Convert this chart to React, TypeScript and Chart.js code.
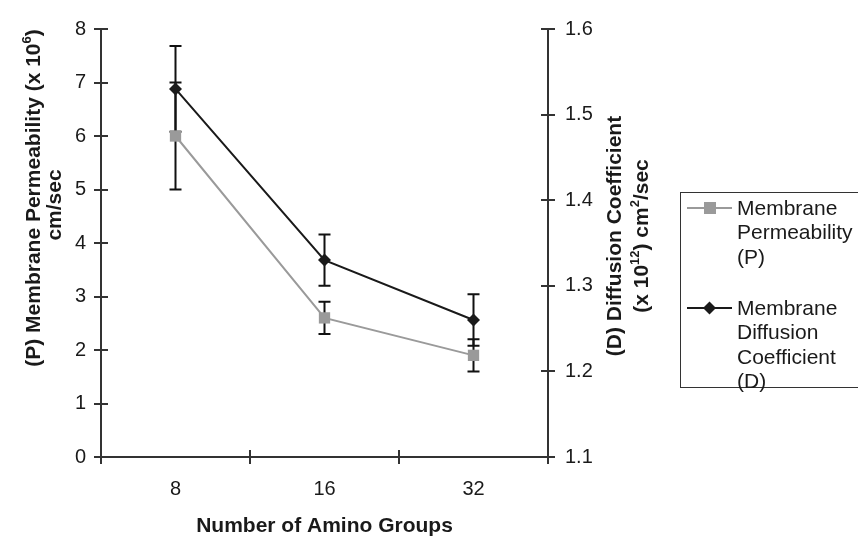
import React, { useEffect, useRef } from 'react';
import { Chart, registerables } from 'chart.js';

Chart.register(...registerables);

const categories = ['8', '16', '32'];
const permeability = [6.0, 2.6, 1.9];
const permeabilityErr = [1.0, 0.3, 0.3];
const diffusion = [1.53, 1.33, 1.26];
const diffusionErr = [0.05, 0.03, 0.03];

const leftMin = 0;
const leftMax = 8;
const leftStep = 1;
const rightMin = 1.1;
const rightMax = 1.6;
const rightStep = 0.1;

const xTitle = 'Number of Amino Groups';
const leftTitle1 = [
  { t: '(P) Membrane Permeability (x 10', sup: false },
  { t: '6', sup: true },
  { t: ')', sup: false },
];
const leftTitle2 = [{ t: 'cm/sec', sup: false }];
const rightTitle1 = [{ t: '(D) Diffusion Coefficient', sup: false }];
const rightTitle2 = [
  { t: '(x 10', sup: false },
  { t: '12', sup: true },
  { t: ') cm', sup: false },
  { t: '2', sup: true },
  { t: '/sec', sup: false },
];
const legendP = ['Membrane', 'Permeability', '(P)'];
const legendD = ['Membrane', 'Diffusion', 'Coefficient', '(D)'];

const FONT = '"Liberation Sans", Arial, sans-serif';
const AXIS = '#333333';
const TEXT = '#1a1a1a';
const GREY = '#9a9a9a';
const BLACK = '#1a1a1a';

type Piece = { t: string; sup: boolean };

function drawRotated(ctx: CanvasRenderingContext2D, pieces: Piece[], baseX: number, centerY: number, size: number) {
  ctx.save();
  ctx.translate(baseX, centerY);
  ctx.rotate(-Math.PI / 2);
  const big = `bold ${size}px ${FONT}`;
  const small = `bold ${Math.round(size * 0.62)}px ${FONT}`;
  let total = 0;
  for (const p of pieces) {
    ctx.font = p.sup ? small : big;
    total += ctx.measureText(p.t).width;
  }
  let x = -total / 2;
  ctx.textBaseline = 'alphabetic';
  ctx.textAlign = 'left';
  ctx.fillStyle = TEXT;
  for (const p of pieces) {
    ctx.font = p.sup ? small : big;
    ctx.fillText(p.t, x, p.sup ? -size * 0.42 : 0);
    x += ctx.measureText(p.t).width;
  }
  ctx.restore();
}

const errorBarPlugin = {
  id: 'errorBars',
  beforeDatasetsDraw(chart: any) {
    const { ctx, scales } = chart;
    const sets = [
      { axis: scales.y, vals: permeability, errs: permeabilityErr },
      { axis: scales.y1, vals: diffusion, errs: diffusionErr },
    ];
    ctx.save();
    ctx.strokeStyle = '#111';
    ctx.lineWidth = 2;
    for (const s of sets) {
      s.vals.forEach((v, i) => {
        const px = scales.x.getPixelForValue(i);
        const top = s.axis.getPixelForValue(v + s.errs[i]);
        const bot = s.axis.getPixelForValue(v - s.errs[i]);
        ctx.beginPath();
        ctx.moveTo(px, top);
        ctx.lineTo(px, bot);
        ctx.moveTo(px - 6, top);
        ctx.lineTo(px + 6, top);
        ctx.moveTo(px - 6, bot);
        ctx.lineTo(px + 6, bot);
        ctx.stroke();
      });
    }
    ctx.restore();
  },
};

const decorPlugin = {
  id: 'decor',
  afterDraw(chart: any) {
    const { ctx, scales, chartArea } = chart;
    const { x, y, y1 } = scales;
    ctx.save();
    ctx.strokeStyle = AXIS;
    ctx.lineWidth = 2;
    ctx.beginPath();
    for (const t of y.ticks) {
      const py = Math.round(y.getPixelForValue(t.value));
      ctx.moveTo(chartArea.left - 7, py);
      ctx.lineTo(chartArea.left + 7, py);
    }
    for (const t of y1.ticks) {
      const py = Math.round(y1.getPixelForValue(t.value));
      ctx.moveTo(chartArea.right - 7, py);
      ctx.lineTo(chartArea.right + 7, py);
    }
    for (let i = 0; i <= categories.length; i++) {
      const px = Math.round(x.getPixelForValue(i - 0.5));
      ctx.moveTo(px, chartArea.bottom - 7);
      ctx.lineTo(px, chartArea.bottom + 7);
    }
    ctx.stroke();

    ctx.fillStyle = TEXT;
    ctx.font = `bold 21px ${FONT}`;
    ctx.textAlign = 'center';
    ctx.textBaseline = 'alphabetic';
    ctx.fillText(xTitle, (chartArea.left + chartArea.right) / 2, 532);
    drawRotated(ctx, leftTitle1, 40, 198, 21);
    drawRotated(ctx, leftTitle2, 61, 205, 21);
    drawRotated(ctx, rightTitle1, 621, 236, 21);
    drawRotated(ctx, rightTitle2, 648, 236, 21);

    ctx.strokeStyle = '#333';
    ctx.lineWidth = 1;
    ctx.strokeRect(680.5, 192.5, 200, 195);
    ctx.font = `21px ${FONT}`;
    ctx.textAlign = 'left';
    ctx.textBaseline = 'middle';
    ctx.fillStyle = TEXT;
    legendP.forEach((s, i) => ctx.fillText(s, 737, 209 + i * 24.5));
    legendD.forEach((s, i) => ctx.fillText(s, 737, 309 + i * 24.5));
    ctx.lineWidth = 2;
    ctx.strokeStyle = GREY;
    ctx.beginPath();
    ctx.moveTo(687, 208);
    ctx.lineTo(732, 208);
    ctx.stroke();
    ctx.fillStyle = GREY;
    ctx.fillRect(704, 202, 12, 12);
    ctx.strokeStyle = BLACK;
    ctx.beginPath();
    ctx.moveTo(687, 308);
    ctx.lineTo(732, 308);
    ctx.stroke();
    ctx.fillStyle = BLACK;
    ctx.beginPath();
    ctx.moveTo(709.5, 301.5);
    ctx.lineTo(716, 308);
    ctx.lineTo(709.5, 314.5);
    ctx.lineTo(703, 308);
    ctx.closePath();
    ctx.fill();
    ctx.restore();
  },
};

export default function App() {
  const ref = useRef<HTMLCanvasElement>(null);
  useEffect(() => {
    const canvas = ref.current;
    if (!canvas) return;
    const tickFont = { family: FONT, size: 20 };
    const chart = new Chart(canvas, {
      type: 'line',
      data: {
        labels: categories,
        datasets: [
          {
            label: 'Membrane Permeability (P)',
            data: permeability,
            yAxisID: 'y',
            borderColor: GREY,
            backgroundColor: GREY,
            borderWidth: 2,
            pointStyle: 'rect',
            pointRadius: 8,
            pointBorderWidth: 0,
            tension: 0,
          },
          {
            label: 'Membrane Diffusion Coefficient (D)',
            data: diffusion,
            yAxisID: 'y1',
            borderColor: BLACK,
            backgroundColor: BLACK,
            borderWidth: 2,
            pointStyle: 'rectRot',
            pointRadius: 6.5,
            pointBorderWidth: 0,
            tension: 0,
          },
        ],
      },
      options: {
        responsive: true,
        maintainAspectRatio: false,
        animation: false,
        events: [],
        layout: { padding: { top: 23, left: 0, right: 0, bottom: 0 } },
        plugins: { legend: { display: false }, tooltip: { enabled: false } },
        scales: {
          x: {
            offset: true,
            grid: { display: true, drawOnChartArea: false, drawTicks: false, color: 'transparent', offset: true },
            border: { display: true, color: AXIS, width: 2 },
            ticks: { font: tickFont, color: TEXT, padding: 20, maxRotation: 0 },
            afterFit: (s: any) => { s.height = 79; },
          },
          y: {
            position: 'left',
            min: leftMin,
            max: leftMax,
            grid: { display: true, drawOnChartArea: false, drawTicks: false, color: 'transparent' },
            border: { display: true, color: AXIS, width: 2 },
            ticks: { stepSize: leftStep, font: tickFont, color: TEXT, padding: 15 },
            afterFit: (s: any) => { s.width = 101; },
          },
          y1: {
            position: 'right',
            min: rightMin,
            max: rightMax,
            grid: { display: true, drawOnChartArea: false, drawTicks: false, color: 'transparent' },
            border: { display: true, color: AXIS, width: 2 },
            ticks: {
              stepSize: rightStep,
              font: tickFont,
              color: TEXT,
              padding: 17,
              callback: (v: any) => Number(v).toFixed(1),
            },
            afterFit: (s: any) => { s.width = 310; },
          },
        },
      },
      plugins: [errorBarPlugin, decorPlugin],
    });
    return () => chart.destroy();
  }, []);
  return (
    <div style={{ position: 'fixed', left: 0, top: 0, width: 858, height: 536, background: '#fff' }}>
      <canvas ref={ref} />
    </div>
  );
}
